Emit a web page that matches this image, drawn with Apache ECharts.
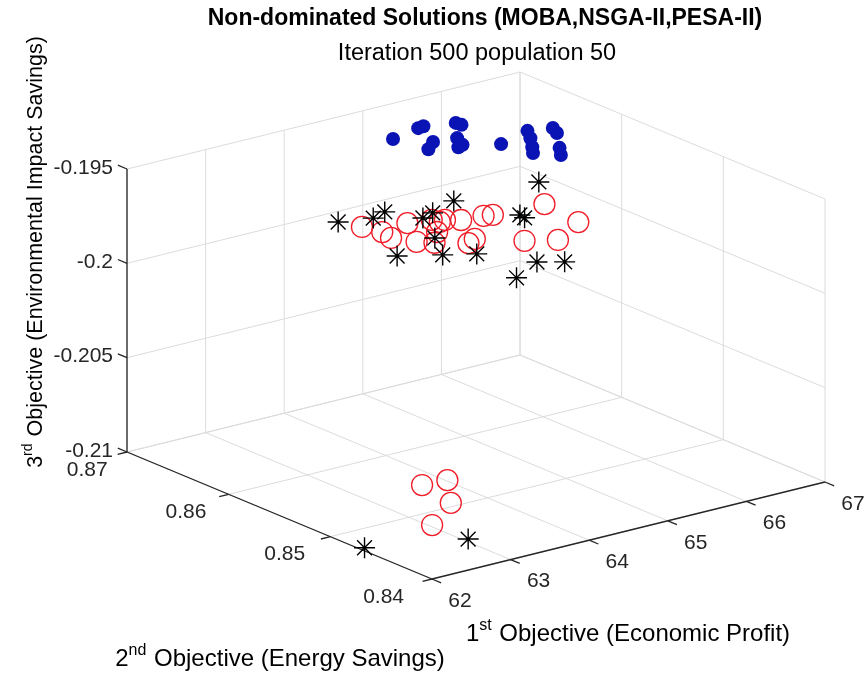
<!DOCTYPE html>
<html>
<head>
<meta charset="utf-8">
<script src="https://cdn.jsdelivr.net/npm/echarts@6/dist/echarts.min.js"></script>
<style>
  html, body { margin: 0; padding: 0; background: #fff; }
  #chart { width: 866px; height: 680px; }
</style>
</head>
<body>
<div id="chart"></div>
<script>
// Axis limits and ticks
const xLimits = [62, 67];
const yLimits = [0.84, 0.87];
const zLimits = [-0.21, -0.195];
const xTicks = [62, 63, 64, 65, 66, 67];
const yTicks = [0.84, 0.85, 0.86, 0.87];
const zTicks = [-0.21, -0.205, -0.2, -0.195];
const xTickLabels = ['62', '63', '64', '65', '66', '67'];
const yTickLabels = ['0.84', '0.85', '0.86', '0.87'];
const zTickLabels = ['-0.21', '-0.205', '-0.2', '-0.195'];

// MOBA non-dominated solutions
const mobaX = [64.880, 65.291, 65.370, 65.143, 64.968, 65.691, 65.700, 65.411, 65.246, 65.325,
               65.647, 66.112, 65.994, 65.837, 65.730, 66.370, 66.306, 66.042, 65.916];
const mobaY = [0.8661, 0.8668, 0.8669, 0.8642, 0.8633, 0.8662, 0.8657, 0.8639, 0.8625, 0.8627,
               0.8614, 0.8624, 0.8612, 0.8598, 0.8589, 0.8619, 0.8610, 0.8587, 0.8576];
const mobaZ = [-0.1955, -0.1955, -0.1955, -0.1955, -0.1955, -0.1955, -0.1955, -0.1955, -0.1955, -0.1955,
               -0.1955, -0.1955, -0.1955, -0.1955, -0.1955, -0.1955, -0.1955, -0.1955, -0.1955];

// NSGA-II non-dominated solutions
const nsgaX = [63.670, 63.734, 63.691, 64.106, 63.822, 64.363, 64.389, 64.467, 64.173, 63.946,
               64.595, 64.210, 64.342, 64.855, 64.947, 64.703, 65.565, 64.986, 65.491,
               63.180, 63.476, 63.067, 62.493];
const nsgaY = [0.8598, 0.8583, 0.8571, 0.8587, 0.8556, 0.8583, 0.8577, 0.8578, 0.8563, 0.8548,
               0.8572, 0.8535, 0.8539, 0.8570, 0.8568, 0.8518, 0.8565, 0.8507, 0.8526,
               0.8501, 0.8499, 0.8464, 0.8438];
const nsgaZ = [-0.1975, -0.1975, -0.1975, -0.1975, -0.1975, -0.1975, -0.1975, -0.1975, -0.1975, -0.1975,
               -0.1975, -0.1975, -0.1975, -0.1975, -0.1975, -0.1975, -0.1975, -0.1975, -0.1975,
               -0.2085, -0.2085, -0.2085, -0.2085];

// PESA-II non-dominated solutions
const pesaX = [63.755, 64.111, 64.322, 63.574, 64.510, 64.686, 64.222, 63.960, 65.084, 64.251,
               66.127, 65.343, 65.325, 64.577, 64.800, 64.110, 62.060, 63.055];
const pesaY = [0.8628, 0.8621, 0.8626, 0.8556, 0.8603, 0.8607, 0.8569, 0.8541, 0.8617, 0.8530,
               0.8614, 0.8572, 0.8566, 0.8496, 0.8486, 0.8480, 0.8471, 0.8446];
const pesaZ = [-0.198, -0.198, -0.198, -0.198, -0.198, -0.198, -0.198, -0.198, -0.198, -0.198,
               -0.198, -0.198, -0.198, -0.198, -0.198, -0.198, -0.21, -0.21];

// ---- 3-D view: orthographic projection of the plot box onto the page plane ----
const BOX_ORIGIN = [432, 579];      // page position of (xmin, ymin, zmin)
const EDGE_X = [393, -97];          // screen vector of the full x extent
const EDGE_Y = [-305, -127];        // screen vector of the full y extent
const EDGE_Z = [0, -283];           // screen vector of the full z extent

function project(x, y, z) {
  const nx = (x - xLimits[0]) / (xLimits[1] - xLimits[0]);
  const ny = (y - yLimits[0]) / (yLimits[1] - yLimits[0]);
  const nz = (z - zLimits[0]) / (zLimits[1] - zLimits[0]);
  return [
    BOX_ORIGIN[0] + nx * EDGE_X[0] + ny * EDGE_Y[0] + nz * EDGE_Z[0],
    BOX_ORIGIN[1] + nx * EDGE_X[1] + ny * EDGE_Y[1] + nz * EDGE_Z[1]
  ];
}

const FONT = "'Liberation Sans', Arial, Helvetica, sans-serif";
const TEXT_COLOR = '#262626';
const GRID_COLOR = '#dcdcdc';
const AXIS_COLOR = '#262626';

// Box grid lines on the three back planes, and the axis lines with their ticks
const [x0, x1] = xLimits, [y0, y1] = yLimits, [z0, z1] = zLimits;
const gridSegs = [];
xTicks.forEach(x => {
  gridSegs.push([x, y0, z0, x, y1, z0]);   // floor
  gridSegs.push([x, y1, z0, x, y1, z1]);   // back wall
});
yTicks.forEach(y => {
  gridSegs.push([x0, y, z0, x1, y, z0]);   // floor
  gridSegs.push([x1, y, z0, x1, y, z1]);   // side wall
});
zTicks.forEach(z => {
  gridSegs.push([x0, y1, z, x1, y1, z]);   // back wall
  gridSegs.push([x1, y0, z, x1, y1, z]);   // side wall
});

const axisSegs = [
  [x0, y0, z0, x1, y0, z0],
  [x0, y0, z0, x0, y1, z0],
  [x0, y1, z0, x0, y1, z1]
];
const tickY = (y1 - y0) * 0.03, tickX = (x1 - x0) * 0.024;
xTicks.forEach(x => axisSegs.push([x, y0, z0, x, y0 - tickY, z0]));
yTicks.forEach(y => axisSegs.push([x0, y, z0, x0 - tickX, y, z0]));
zTicks.forEach(z => axisSegs.push([x0, y1, z, x0, y1 + tickY, z]));

function segmentSeries(segs, color, width) {
  return {
    type: 'custom',
    coordinateSystem: 'cartesian2d',
    silent: true,
    data: segs,
    renderItem: function (params, api) {
      const a = api.coord(project(api.value(0), api.value(1), api.value(2)));
      const b = api.coord(project(api.value(3), api.value(4), api.value(5)));
      return {
        type: 'line',
        shape: { x1: a[0], y1: a[1], x2: b[0], y2: b[1] },
        style: { stroke: color, lineWidth: width }
      };
    }
  };
}

// Tick labels anchored to the projected tick positions
const tickLabelItems = [];
xTicks.forEach((x, i) => tickLabelItems.push({ value: [x, y0, z0], name: xTickLabels[i], kind: 'x', k: i }));
yTicks.forEach((y, i) => tickLabelItems.push({ value: [x0, y, z0], name: yTickLabels[i], kind: 'y', k: i }));
zTicks.forEach((z, i) => tickLabelItems.push({ value: [x0, y1, z], name: zTickLabels[i], kind: 'z', k: i }));
const labelPlacement = {
  x: { dx: 28, step: 0, dy: 22, align: 'center' },
  y: { dx: -28, step: 2.9, dy: 18, align: 'right' },
  z: { dx: -14, step: 0, dy: -1, align: 'right' }
};

const tickLabelSeries = {
  type: 'custom',
  coordinateSystem: 'cartesian2d',
  silent: true,
  data: tickLabelItems.map(d => ({ value: d.value, name: d.name })),
  renderItem: function (params, api) {
    const item = tickLabelItems[params.dataIndex];
    const p = api.coord(project(api.value(0), api.value(1), api.value(2)));
    const pl = labelPlacement[item.kind];
    return {
      type: 'text',
      x: p[0] + pl.dx + pl.step * item.k,
      y: p[1] + pl.dy,
      style: {
        text: item.name,
        fill: TEXT_COLOR,
        font: '21px ' + FONT,
        align: pl.align,
        verticalAlign: 'middle'
      }
    };
  }
};

function points(xs, ys, zs) {
  return xs.map((x, i) => project(x, ys[i], zs[i]));
}

const asterisk = 'path://M10,0L10,20M0,10L20,10M2.93,2.93L17.07,17.07M2.93,17.07L17.07,2.93';

function supRich(size) {
  return {
    n: { fontSize: size, fontFamily: FONT, color: TEXT_COLOR },
    s: { fontSize: Math.round(size * 0.66), fontFamily: FONT, color: TEXT_COLOR, padding: [0, 1, Math.round(size * 0.7), 0] }
  };
}

const chart = echarts.init(document.getElementById('chart'), null, { renderer: 'canvas' });
chart.setOption({
  animation: false,
  backgroundColor: '#ffffff',
  grid: { left: 0, right: 0, top: 0, bottom: 0 },
  xAxis: { type: 'value', min: 0, max: 866, show: false },
  yAxis: { type: 'value', min: 0, max: 680, inverse: true, show: false },
  graphic: [
    {
      type: 'text', x: 485, y: 19,
      style: {
        text: 'Non-dominated Solutions (MOBA,NSGA-II,PESA-II)',
        font: 'bold 23px ' + FONT, fill: '#000', align: 'center', verticalAlign: 'middle'
      }
    },
    {
      type: 'text', x: 477, y: 54,
      style: {
        text: 'Iteration 500 population 50',
        font: '23.5px ' + FONT, fill: '#000', align: 'center', verticalAlign: 'middle'
      }
    },
    {
      type: 'text', x: 628, y: 634,
      style: {
        text: '{n|1}{s|st}{n| Objective (Economic Profit)}',
        rich: supRich(24), align: 'center', verticalAlign: 'middle'
      }
    },
    {
      type: 'text', x: 280, y: 659,
      style: {
        text: '{n|2}{s|nd}{n| Objective (Energy Savings)}',
        rich: supRich(24), align: 'center', verticalAlign: 'middle'
      }
    },
    {
      type: 'text', x: 36, y: 252, rotation: Math.PI / 2,
      style: {
        text: '{n|3}{s|rd}{n| Objective (Environmental Impact Savings)}',
        rich: supRich(21.5), align: 'center', verticalAlign: 'middle'
      }
    }
  ],
  series: [
    segmentSeries(gridSegs, GRID_COLOR, 1),
    segmentSeries(axisSegs, AXIS_COLOR, 1.3),
    tickLabelSeries,
    {
      name: 'MOBA',
      type: 'scatter',
      clip: false,
      symbol: 'circle',
      symbolSize: 14,
      itemStyle: { color: '#0a14b4', opacity: 1 },
      data: points(mobaX, mobaY, mobaZ)
    },
    {
      name: 'NSGA-II',
      type: 'scatter',
      clip: false,
      symbol: 'circle',
      symbolSize: 21,
      itemStyle: { color: 'rgba(0,0,0,0)', borderColor: '#f01c28', borderWidth: 1.3, opacity: 1 },
      data: points(nsgaX, nsgaY, nsgaZ)
    },
    {
      name: 'PESA-II',
      type: 'scatter',
      clip: false,
      symbol: asterisk,
      symbolSize: 21,
      itemStyle: { color: 'rgba(0,0,0,0)', borderColor: '#000', borderWidth: 1.4, opacity: 1 },
      data: points(pesaX, pesaY, pesaZ)
    }
  ]
});
</script>
</body>
</html>
